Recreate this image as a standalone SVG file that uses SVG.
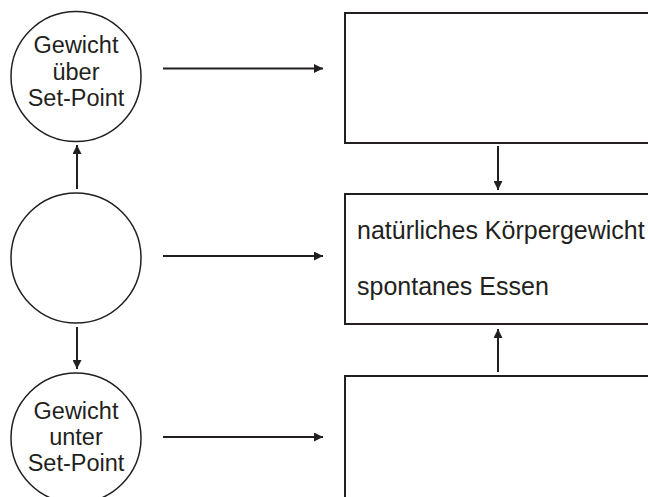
<svg xmlns="http://www.w3.org/2000/svg" width="648" height="497" viewBox="0 0 648 497">
<style>
.c{fill:#fff;stroke:#231f20;stroke-width:1.5}
.b{fill:#fff;stroke:#231f20;stroke-width:2}
.t{font-family:"Liberation Sans",Arial,sans-serif;font-size:23.5px;fill:#231f20;text-anchor:middle}
.bt{font-family:"Liberation Sans",Arial,sans-serif;font-size:25px;fill:#231f20}
.e{stroke:#231f20;stroke-width:2;fill:none;marker-end:url(#ah)}
</style>
<defs>
<marker id="ah" viewBox="0 0 8 8" refX="8" refY="4" markerWidth="4.5" markerHeight="4.5" orient="auto" markerUnits="strokeWidth">
<path d="M0,0 L8,4 L0,8 z" fill="#231f20"/>
</marker>
</defs>
<rect width="648" height="497" fill="#fff"/>
<g id="c1"><circle class="c" cx="76" cy="76.5" r="65"/>
<text class="t" x="76" y="53">Gewicht</text><text class="t" x="76" y="80">über</text><text class="t" x="76" y="106">Set-Point</text></g>
<g id="c2"><circle class="c" cx="76" cy="258" r="65"/></g>
<g id="c3"><circle class="c" cx="76" cy="438" r="65"/>
<text class="t" x="76" y="419">Gewicht</text><text class="t" x="76" y="445">unter</text><text class="t" x="76" y="471">Set-Point</text></g>
<g id="b1"><rect class="b" x="345" y="13" width="320" height="130"/></g>
<g id="b2"><rect class="b" x="345" y="194" width="320" height="130"/>
<text class="bt" x="357" y="239">natürliches Körpergewicht</text><text class="bt" x="357" y="295">spontanes Essen</text></g>
<g id="b3"><rect class="b" x="345" y="376" width="320" height="140"/></g>
<g id="edges">
<line class="e" x1="163" y1="68.5" x2="323" y2="68.5"/>
<line class="e" x1="163" y1="256" x2="323" y2="256"/>
<line class="e" x1="163" y1="437" x2="323" y2="437"/>
<line class="e" x1="77" y1="189" x2="77" y2="145"/>
<line class="e" x1="77" y1="327" x2="77" y2="369"/>
<line class="e" x1="498" y1="146" x2="498" y2="190"/>
<line class="e" x1="498" y1="372" x2="498" y2="329"/>
</g>
</svg>
